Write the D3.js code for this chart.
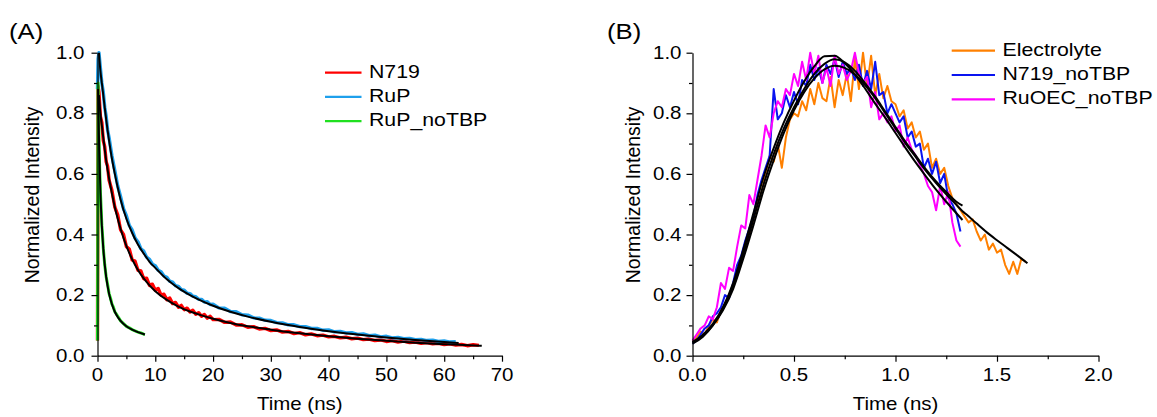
<!DOCTYPE html>
<html>
<head>
<meta charset="utf-8">
<script src="https://d3js.org/d3.v7.min.js"></script>
<style>
  html, body { margin: 0; padding: 0; background: white; }
  text { font-family: "Liberation Sans", Arial, sans-serif; fill: #000; }
</style>
</head>
<body>
<div id="chart"></div>
<script>
// ---------- panel A data (time in ns, normalized intensity) ----------
const tA = [0, 0.1, 0.25, 0.5, 0.75, 1, 1.25, 1.5, 1.75, 2,
  2.5, 3, 3.5, 4, 4.5, 5, 5.5, 6, 6.5, 7, 7.5, 8, 8.5, 9, 9.5, 10, 10.5, 11, 11.5, 12, 12.5, 13, 13.5, 14,
  14.5, 15, 15.5, 16, 16.5, 17, 17.5, 18, 18.5, 19, 19.5, 20,
  21, 22, 23, 24, 25, 26, 27, 28, 29, 30, 31, 32, 33, 34, 35, 36, 37, 38, 39, 40, 41, 42, 43, 44, 45, 46,
  47, 48, 49, 50, 51, 52, 53, 54, 55, 56, 57, 58, 59, 60, 61, 62, 63, 64, 65, 66];
const n719 = [0.05, 0.89, 0.87, 0.79, 0.77, 0.71, 0.69, 0.64, 0.625, 0.58,
  0.545, 0.49, 0.465, 0.415, 0.4, 0.36, 0.352, 0.316, 0.312, 0.282, 0.28, 0.254, 0.256, 0.232, 0.236, 0.216,
  0.222, 0.2, 0.203, 0.185, 0.19, 0.172, 0.176, 0.16, 0.166, 0.152, 0.157, 0.144, 0.15, 0.137, 0.142, 0.13,
  0.136, 0.124, 0.13, 0.119,
  0.12, 0.11, 0.111, 0.101, 0.102, 0.094, 0.096, 0.088, 0.09, 0.083, 0.085, 0.078, 0.08, 0.073, 0.076, 0.069,
  0.072, 0.066, 0.068, 0.062, 0.064, 0.059, 0.061, 0.056, 0.058, 0.053, 0.055, 0.05, 0.052, 0.047, 0.05, 0.045,
  0.048, 0.043, 0.045, 0.041, 0.043, 0.039, 0.041, 0.037, 0.039, 0.035, 0.037, 0.033, 0.036, 0.034];
const ruP = [0.88, 0.98, 1.0, 0.95, 0.9, 0.87, 0.82, 0.79, 0.745, 0.72,
  0.66, 0.61, 0.56, 0.525, 0.485, 0.462, 0.43, 0.415, 0.388, 0.376, 0.353, 0.345, 0.325, 0.318, 0.302, 0.297,
  0.282, 0.277, 0.263, 0.259, 0.246, 0.243, 0.231, 0.229, 0.218, 0.216, 0.206, 0.205, 0.196, 0.195, 0.186,
  0.186, 0.177, 0.178, 0.169, 0.17,
  0.158, 0.157, 0.146, 0.145, 0.135, 0.134, 0.125, 0.124, 0.117, 0.116, 0.109, 0.108, 0.102, 0.102, 0.096,
  0.096, 0.09, 0.09, 0.084, 0.085, 0.079, 0.08, 0.075, 0.076, 0.07, 0.072, 0.066, 0.068, 0.062, 0.064, 0.059,
  0.06, 0.056, 0.057, 0.053, 0.054, 0.05, 0.051, 0.047, 0.049, 0.045, 0.046];
const tG = [0, 0.1, 0.2, 0.3, 0.4, 0.5, 0.6, 0.75, 0.9, 1.0, 1.25, 1.5, 1.75, 2, 2.25, 2.5, 2.75, 3, 3.5, 4, 4.5,
  5, 5.5, 6, 6.5, 7, 7.5, 8, 8.2];
const ruPnoTBP = [0.05, 0.9, 0.78, 0.68, 0.6, 0.54, 0.5, 0.43, 0.39, 0.355, 0.3, 0.26, 0.235, 0.205, 0.19, 0.17,
  0.16, 0.145, 0.13, 0.115, 0.106, 0.097, 0.092, 0.086, 0.082, 0.078, 0.075, 0.071, 0.07];

// fitted curves (black)
const tFitA = [0.25, 0.5, 0.75, 1, 1.5, 2, 2.5, 3, 3.5, 4, 5, 6, 7, 8, 9, 10, 12, 14, 16, 18, 20, 23, 26, 30, 35,
  40, 45, 50, 55, 60, 62.5, 66.5];
const fitN719 = [0.86, 0.8, 0.76, 0.72, 0.645, 0.585, 0.535, 0.49, 0.452, 0.418, 0.362, 0.318, 0.283, 0.255,
  0.232, 0.213, 0.184, 0.162, 0.146, 0.133, 0.122, 0.108, 0.097, 0.086, 0.074, 0.064, 0.056, 0.049, 0.043,
  0.038, 0.036, 0.033];
const fitRuP = [1.0, 0.94, 0.9, 0.86, 0.78, 0.71, 0.65, 0.6, 0.555, 0.515, 0.452, 0.405, 0.367, 0.337, 0.31,
  0.29, 0.252, 0.223, 0.2, 0.181, 0.165, 0.145, 0.129, 0.112, 0.095, 0.081, 0.07, 0.06, 0.052, 0.045, 0.042];
const tFitG = [0.1, 0.3, 0.5, 0.75, 1, 1.5, 2, 2.5, 3, 3.5, 4, 5, 6, 7, 8.2];
const fitRuPnoTBP = [0.88, 0.68, 0.54, 0.43, 0.355, 0.26, 0.205, 0.17, 0.145, 0.128, 0.115, 0.097, 0.086,
  0.078, 0.07];

// ---------- panel B data ----------
const tB = [0, 0.02, 0.04, 0.06, 0.08, 0.1, 0.12, 0.14, 0.16, 0.18, 0.2, 0.22, 0.24, 0.26, 0.28, 0.3, 0.32,
  0.34, 0.36, 0.38, 0.4, 0.42, 0.44, 0.46, 0.48, 0.5, 0.52, 0.54, 0.56, 0.58, 0.6, 0.62, 0.64, 0.66, 0.68, 0.7,
  0.72, 0.74, 0.76, 0.78, 0.8, 0.82, 0.84, 0.86, 0.88, 0.9, 0.92, 0.94, 0.96, 0.98, 1.0, 1.02, 1.04, 1.06, 1.08,
  1.1, 1.12, 1.14, 1.16, 1.18, 1.2, 1.22, 1.24, 1.26, 1.28, 1.3, 1.32, 1.34, 1.36, 1.38, 1.4, 1.42, 1.44, 1.46,
  1.48, 1.5, 1.52, 1.54, 1.56, 1.58, 1.6, 1.62, 1.64];
const electrolyte = [0.05, 0.06, 0.08, 0.07, 0.1, 0.12, 0.11, 0.15, 0.17, 0.2, 0.23, 0.28, 0.31, 0.36, 0.4,
  0.45, 0.5, 0.54, 0.6, 0.66, 0.64, 0.7, 0.62, 0.72, 0.78, 0.8, 0.79, 0.84, 0.81, 0.88, 0.83, 0.9, 0.85, 0.84,
  0.92, 0.82, 0.91, 0.86, 0.93, 0.84, 0.98, 0.88, 1.0, 0.89, 0.99, 0.86, 0.93, 0.85, 0.89, 0.84, 0.83, 0.79,
  0.81, 0.75, 0.77, 0.72, 0.74, 0.68, 0.7, 0.62, 0.65, 0.6, 0.62, 0.56, 0.52, 0.5, 0.48, 0.46, 0.44, 0.45, 0.41,
  0.38, 0.4, 0.35, 0.37, 0.34, 0.35, 0.3, 0.27, 0.31, 0.27, 0.32, 0.31];
const n719noTBP = [0.04, 0.05, 0.07, 0.09, 0.1, 0.13, 0.14, 0.16, 0.2, 0.19, 0.24, 0.3, 0.33, 0.38, 0.42,
  0.46, 0.53, 0.58, 0.62, 0.66, 0.88, 0.78, 0.8, 0.86, 0.82, 0.87, 0.83, 0.91, 0.89, 0.96, 0.91, 0.95, 0.9,
  0.96, 0.93, 0.98, 0.92, 0.97, 0.93, 0.95, 0.91, 0.96, 0.89, 0.94, 0.88, 0.97, 0.86, 0.87, 0.8, 0.83, 0.8,
  0.77, 0.79, 0.72, 0.74, 0.69, 0.7, 0.62, 0.65, 0.6, 0.64, 0.57, 0.6, 0.52, 0.5, 0.47, 0.41];
const ruOECnoTBP = [0.05, 0.07, 0.09, 0.1, 0.13, 0.12, 0.16, 0.24, 0.22, 0.29, 0.28, 0.36, 0.43, 0.42, 0.53,
  0.5, 0.58, 0.66, 0.76, 0.72, 0.8, 0.84, 0.82, 0.88, 0.86, 0.93, 0.89, 0.97, 0.91, 1.0, 0.93, 0.99, 0.9, 0.95,
  0.89, 0.99, 0.93, 0.96, 0.91, 0.94, 1.0, 0.93, 0.9, 0.92, 0.82, 0.87, 0.78, 0.8, 0.77, 0.79, 0.74, 0.76,
  0.69, 0.72, 0.68, 0.66, 0.63, 0.6, 0.56, 0.54, 0.48, 0.56, 0.5, 0.54, 0.44, 0.38, 0.36];

const tFitB = [0, 0.05, 0.1, 0.15, 0.2, 0.25, 0.3, 0.35, 0.4, 0.45, 0.5, 0.55, 0.6, 0.65, 0.7, 0.75, 0.8, 0.85,
  0.9, 0.95, 1.0, 1.05, 1.1, 1.15, 1.2, 1.25, 1.3, 1.33, 1.35, 1.4, 1.45, 1.5, 1.55, 1.6, 1.65];
const fitElectrolyte = [0.045, 0.065, 0.1, 0.15, 0.22, 0.32, 0.43, 0.545, 0.645, 0.735, 0.81, 0.87, 0.915,
  0.945, 0.957, 0.95, 0.928, 0.893, 0.85, 0.8, 0.75, 0.7, 0.655, 0.61, 0.57, 0.533, 0.498, 0.477, 0.466, 0.436,
  0.407, 0.381, 0.356, 0.331, 0.305];
const fitN719noTBP = [0.04, 0.062, 0.1, 0.155, 0.23, 0.335, 0.45, 0.565, 0.665, 0.75, 0.82, 0.88, 0.93, 0.963,
  0.978, 0.968, 0.94, 0.9, 0.855, 0.805, 0.755, 0.705, 0.66, 0.615, 0.575, 0.54, 0.508, 0.495];
const fitRuOECnoTBP = [0.045, 0.068, 0.105, 0.16, 0.24, 0.35, 0.47, 0.59, 0.685, 0.77, 0.842, 0.905, 0.955,
  0.988, 0.99, 0.965, 0.928, 0.882, 0.832, 0.785, 0.735, 0.685, 0.637, 0.592, 0.548, 0.508, 0.47, 0.448];

// ---------- axes ticks / labels ----------
const xTicksA = [0, 10, 20, 30, 40, 50, 60, 70];
const xTickLabelsA = ["0", "10", "20", "30", "40", "50", "60", "70"];
const xMinorA = [5, 15, 25, 35, 45, 55, 65];
const xTicksB = [0, 0.5, 1, 1.5, 2];
const xTickLabelsB = ["0.0", "0.5", "1.0", "1.5", "2.0"];
const xMinorB = [0.25, 0.75, 1.25, 1.75];
const yTicks = [0, 0.2, 0.4, 0.6, 0.8, 1.0];
const yTickLabels = ["0.0", "0.2", "0.4", "0.6", "0.8", "1.0"];
const yMinor = [0.1, 0.3, 0.5, 0.7, 0.9];

const legendA = ["N719", "RuP", "RuP_noTBP"];
const legendB = ["Electrolyte", "N719_noTBP", "RuOEC_noTBP"];
const colorsA = ["#ff0000", "#1ea0ec", "#20e020"];
const colorsB = ["#ff8000", "#0a14f0", "#ff00ff"];

// ---------- drawing ----------
const W = 1157, H = 417;
const SX = 1.17;   // the figure text is a bit stretched horizontally
const svg = d3.select("#chart").append("svg").attr("width", W).attr("height", H);
svg.append("rect").attr("width", W).attr("height", H).attr("fill", "white");

function stext(g, x, y, str, size, anchor) {
  return g.append("text")
    .attr("transform", `translate(${x},${y}) scale(${SX},1)`)
    .attr("text-anchor", anchor || "start")
    .style("font-size", size + "px")
    .text(str);
}

function panel(opts) {
  const g = svg.append("g");
  const x = opts.x, y = opts.y;
  const x0 = x.range()[0], y0 = y.range()[0];

  // data lines
  opts.data.forEach((s) => {
    g.append("path")
      .datum(d3.zip(s.t, s.v))
      .attr("fill", "none")
      .attr("stroke", s.color)
      .attr("stroke-width", s.width)
      .attr("stroke-linejoin", "round")
      .attr("d", d3.line().x((d) => x(d[0])).y((d) => y(d[1])));
  });
  // fits
  opts.fits.forEach((s) => {
    g.append("path")
      .datum(d3.zip(s.t, s.v))
      .attr("fill", "none")
      .attr("stroke", "#000")
      .attr("stroke-width", 2)
      .attr("d", d3.line().curve(d3.curveMonotoneX).x((d) => x(d[0])).y((d) => y(d[1])));
  });

  // axes
  const ax = g.append("g").attr("transform", `translate(0,${y0})`);
  ax.call(d3.axisBottom(x).tickValues(opts.xTicks).tickSize(6).tickSizeOuter(0).tickFormat(""));
  ax.append("g").call(d3.axisBottom(x).tickValues(opts.xMinor).tickSize(3.5).tickSizeOuter(0).tickFormat(""))
    .select(".domain").remove();
  const ay = g.append("g").attr("transform", `translate(${x0},0)`);
  ay.call(d3.axisLeft(y).tickValues(yTicks).tickSize(6).tickSizeOuter(0).tickFormat(""));
  ay.append("g").call(d3.axisLeft(y).tickValues(yMinor).tickSize(3.5).tickSizeOuter(0).tickFormat(""))
    .select(".domain").remove();
  g.selectAll(".domain, .tick line").attr("stroke", "#000").attr("stroke-width", 1.2);

  opts.xTicks.forEach((v, i) => stext(g, x(v), y0 + 25, opts.xLabels[i], 17.5, "middle"));
  yTicks.forEach((v, i) => stext(g, x0 - opts.yPad, y(v) + 6, yTickLabels[i], 17.5, "end"));

  stext(g, (x.range()[0] + x.range()[1]) / 2, 410, "Time (ns)", 17.5, "middle");
  g.append("text")
    .attr("transform", `translate(${opts.yTitleX},195) rotate(-90)`)
    .attr("text-anchor", "middle")
    .style("font-size", "19.5px")
    .text("Normalized Intensity");
  stext(g, opts.tag[0], 39, opts.tag[1], 22, "start");

  // legend
  opts.legend.names.forEach((name, i) => {
    const ly = opts.legend.y + i * opts.legend.dy;
    g.append("line")
      .attr("x1", opts.legend.x).attr("x2", opts.legend.x + opts.legend.len)
      .attr("y1", ly).attr("y2", ly)
      .attr("stroke", opts.legend.colors[i]).attr("stroke-width", 2.2);
    stext(g, opts.legend.x + opts.legend.len + 7.5, ly + 5, name, 18.2, "start");
  });
}

const yScale = d3.scaleLinear().domain([0, 1]).range([355.7, 52.7]);

panel({
  x: d3.scaleLinear().domain([0, 70]).range([97.5, 502]),
  y: yScale,
  xTicks: xTicksA, xLabels: xTickLabelsA, xMinor: xMinorA,
  yPad: 13, yTitleX: 39, tag: [9, "(A)"],
  data: [
    { t: tA, v: n719, color: colorsA[0], width: 3.4 },
    { t: tA, v: ruP, color: colorsA[1], width: 3.4 },
    { t: tG, v: ruPnoTBP, color: colorsA[2], width: 3 },
  ],
  fits: [
    { t: tFitA, v: fitRuP },
    { t: tFitA, v: fitN719 },
    { t: tFitG, v: fitRuPnoTBP },
  ],
  legend: { names: legendA, colors: colorsA, x: 325, y: 72.7, dy: 24.2, len: 36.5 },
});

panel({
  x: d3.scaleLinear().domain([0, 2]).range([692.5, 1098.5]),
  y: yScale,
  xTicks: xTicksB, xLabels: xTickLabelsB, xMinor: xMinorB,
  yPad: 11, yTitleX: 640, tag: [607, "(B)"],
  data: [
    { t: tB, v: electrolyte, color: colorsB[0], width: 2 },
    { t: tB, v: n719noTBP, color: colorsB[1], width: 2 },
    { t: tB, v: ruOECnoTBP, color: colorsB[2], width: 2 },
  ],
  fits: [
    { t: tFitB, v: fitElectrolyte },
    { t: tFitB, v: fitN719noTBP },
    { t: tFitB, v: fitRuOECnoTBP },
  ],
  legend: { names: legendB, colors: colorsB, x: 951.7, y: 50.7, dy: 24.3, len: 43.3 },
});
</script>
</body>
</html>
